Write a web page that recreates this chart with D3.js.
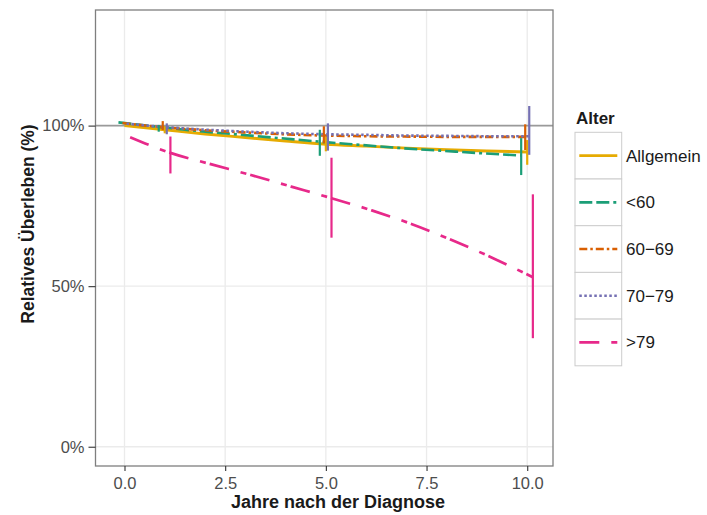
<!DOCTYPE html>
<html>
<head>
<meta charset="utf-8">
<script src="https://cdn.jsdelivr.net/npm/d3@7"></script>
<style>
  body { margin: 0; background: white; }
  text { font-family: "Liberation Sans", Arial, sans-serif; }
</style>
</head>
<body>
<div id="chart"></div>
<script>
// values
let years = [0, 1, 2, 3, 4, 5, 6, 7, 8, 9, 10];
let groups = ["Allgemein", "<60", "60\u221269", "70\u221279", ">79"];

let allgemein = [100.0, 98.7, 97.4, 96.3, 95.2, 94.2, 93.6, 93.0, 92.5, 92.1, 91.8];
let unter60   = [101.0, 99.6, 98.3, 97.2, 96.1, 95.0, 94.0, 93.0, 92.2, 91.4, 90.7];
let von60     = [100.8, 99.5, 98.6, 97.9, 97.3, 96.9, 96.7, 96.6, 96.5, 96.5, 96.5];
let von70     = [100.6, 99.5, 98.7, 98.1, 97.6, 97.3, 97.1, 96.9, 96.8, 96.7, 96.7];
let ueber79   = [96.4, 91.5, 88.0, 84.6, 81.0, 77.4, 73.6, 69.3, 64.3, 58.8, 52.8];

// confidence intervals at 1, 5 and 10 years
let ciYears = [1, 5, 10];
let ciLow  = [[97.6, 92.0, 87.8], [98.1, 90.6, 84.6], [98.6, 94.5, 92.4], [97.3, 92.2, 90.9], [85.1, 65.1, 33.8]];
let ciHigh = [[99.8, 96.5, 95.5], [100.2, 98.7, 96.1], [101.4, 99.8, 100.4], [100.7, 100.7, 106.1], [96.6, 90.0, 78.6]];

let xTicks = [0, 2.5, 5, 7.5, 10];
let yTicks = [0, 50, 100];

let colors = ["#E6AB02", "#1B9E77", "#D95F02", "#7570B3", "#E7298A"];
let dashes = ["none", "13,4,13,4,3,4", "8,3,2.5,3", "2.5,2.5", "20,12,6,4"];
let dodge = [0, -0.15, -0.05, 0.05, 0.14];
let widths = [2.9, 2.6, 2.6, 2.6, 2.7];

let seriesValues = [allgemein, unter60, von60, von70, ueber79];

let w = 707, h = 515;
let pLeft = 95.5, pRight = 553, pTop = 10, pBottom = 466;

let viz = d3.select("#chart").append("svg")
    .attr("width", w)
    .attr("height", h);

let xScale = d3.scaleLinear().domain([-0.72, 10.64]).range([pLeft, pRight]);
let yScale = d3.scaleLinear().domain([-6, 136]).range([pBottom, pTop]);

// grid
let grid = viz.append("g");
grid.selectAll(".vgrid").data(xTicks).enter().append("line")
    .attr("x1", d => xScale(d)).attr("x2", d => xScale(d))
    .attr("y1", pTop).attr("y2", pBottom)
    .attr("stroke", "#EBEBEB").attr("stroke-width", 1.3);
grid.selectAll(".hgrid").data(yTicks).enter().append("line")
    .attr("x1", pLeft).attr("x2", pRight)
    .attr("y1", d => yScale(d)).attr("y2", d => yScale(d))
    .attr("stroke", "#EBEBEB").attr("stroke-width", 1.3);

// reference line at 100%
viz.append("line")
    .attr("x1", pLeft).attr("x2", pRight)
    .attr("y1", yScale(100)).attr("y2", yScale(100))
    .attr("stroke", "#9A9A9A").attr("stroke-width", 1.8);

// survival lines
let line = d3.line()
    .x(d => d[0]).y(d => d[1])
    .curve(d3.curveMonotoneX);

groups.forEach(function(g, i){
  let pts = years.map((t, j) => [xScale(t + dodge[i]), yScale(seriesValues[i][j])]);
  viz.append("path")
      .attr("d", line(pts))
      .attr("fill", "none")
      .attr("stroke", colors[i])
      .attr("stroke-width", widths[i])
      .attr("stroke-dasharray", dashes[i]);
});

// error bars
groups.forEach(function(g, i){
  viz.selectAll(".ci" + i).data(ciYears).enter().append("line")
      .attr("class", "ci" + i)
      .attr("x1", d => xScale(d + dodge[i])).attr("x2", d => xScale(d + dodge[i]))
      .attr("y1", (d, j) => yScale(ciLow[i][j]))
      .attr("y2", (d, j) => yScale(ciHigh[i][j]))
      .attr("stroke", colors[i])
      .attr("stroke-width", 2.2);
});

// panel border
viz.append("rect")
    .attr("x", pLeft).attr("y", pTop)
    .attr("width", pRight - pLeft).attr("height", pBottom - pTop)
    .attr("fill", "none").attr("stroke", "#7F7F7F").attr("stroke-width", 1.3);

// axes
let xAxis = d3.axisBottom(xScale).tickValues(xTicks).tickFormat(d3.format(".1f")).tickSize(5).tickPadding(6);
let xAxisGroup = viz.append("g")
    .attr("transform", "translate(0," + pBottom + ")")
    .call(xAxis);
let yAxis = d3.axisLeft(yScale).tickValues(yTicks).tickFormat(d => d + "%").tickSize(7).tickPadding(4);
let yAxisGroup = viz.append("g")
    .attr("transform", "translate(" + pLeft + ",0)")
    .call(yAxis);

[xAxisGroup, yAxisGroup].forEach(function(a){
  a.select(".domain").remove();
  a.selectAll(".tick line").attr("stroke", "#333333").attr("stroke-width", 1.1);
  a.selectAll(".tick text")
      .attr("fill", "#4D4D4D")
      .attr("font-size", "16.5px")
      .attr("font-family", "Liberation Sans, Arial, sans-serif");
});

// axis titles
viz.append("text")
    .attr("x", 338)
    .attr("y", 508)
    .attr("text-anchor", "middle")
    .attr("font-size", "18px")
    .attr("font-weight", "bold")
    .attr("fill", "#1A1A1A")
    .text("Jahre nach der Diagnose");

viz.append("text")
    .attr("transform", "translate(34,224) rotate(-90)")
    .attr("text-anchor", "middle")
    .attr("font-size", "17.5px")
    .attr("font-weight", "bold")
    .attr("fill", "#1A1A1A")
    .text("Relatives \u00DCberleben (%)");

// legend
let legend = viz.append("g").attr("transform", "translate(575,0)");
legend.append("text")
    .attr("x", 1).attr("y", 124)
    .attr("font-size", "17px")
    .attr("font-weight", "bold")
    .attr("fill", "#1A1A1A")
    .text("Alter");

let keySize = 46.7;
let keys = legend.selectAll(".key").data(groups).enter().append("g")
    .attr("transform", (d, i) => "translate(0," + (132.3 + i * keySize) + ")");
keys.append("rect")
    .attr("width", keySize).attr("height", keySize)
    .attr("fill", "white").attr("stroke", "#CCCCCC").attr("stroke-width", 1);
keys.append("line")
    .attr("x1", 4.3).attr("x2", 42.3)
    .attr("y1", keySize / 2).attr("y2", keySize / 2)
    .attr("stroke", (d, i) => colors[i])
    .attr("stroke-width", (d, i) => widths[i])
    .attr("stroke-dasharray", (d, i) => dashes[i]);
keys.append("text")
    .attr("x", 51).attr("y", keySize / 2)
    .attr("dy", "0.35em")
    .attr("font-size", "17px")
    .attr("fill", "#1A1A1A")
    .text(d => d);
</script>
</body>
</html>
